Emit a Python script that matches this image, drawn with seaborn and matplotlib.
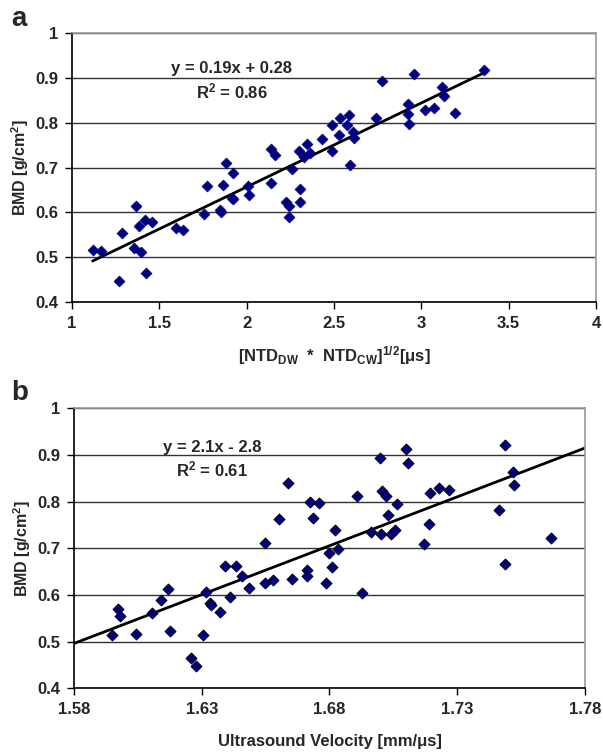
import numpy as np
import pandas as pd
import seaborn as sns
import matplotlib.pyplot as plt

# panel a: geometric mean of normalised time delays vs BMD
ntd = [1.118, 1.168, 1.271, 1.284, 1.366, 1.357, 1.395, 1.385, 1.418, 1.456,
       1.425, 1.594, 1.634, 1.758, 1.771, 1.845, 1.853, 1.866, 1.881, 1.920,
       1.914, 1.923, 2.005, 2.015, 2.139, 2.141, 2.162, 2.223, 2.240, 2.244,
       2.261, 2.303, 2.303, 2.297, 2.343, 2.330, 2.362, 2.429, 2.488, 2.488,
       2.532, 2.526, 2.576, 2.585, 2.591, 2.606, 2.614, 2.740, 2.776, 2.925,
       2.924, 2.931, 2.956, 3.021, 3.072, 3.118, 3.131, 3.191, 3.360]
bmd_a = [0.515, 0.513, 0.446, 0.553, 0.614, 0.521, 0.512, 0.570, 0.582, 0.578,
         0.465, 0.564, 0.561, 0.597, 0.659, 0.605, 0.600, 0.662, 0.711, 0.688,
         0.631, 0.629, 0.659, 0.638, 0.665, 0.741, 0.729, 0.624, 0.615, 0.590,
         0.696, 0.653, 0.624, 0.737, 0.752, 0.724, 0.732, 0.763, 0.737, 0.794,
         0.811, 0.772, 0.794, 0.817, 0.705, 0.780, 0.766, 0.811, 0.893, 0.841,
         0.819, 0.798, 0.910, 0.829, 0.834, 0.881, 0.860, 0.823, 0.919]

# panel b: ultrasound velocity vs BMD
vel = [1.5950, 1.5971, 1.5979, 1.6041, 1.6104, 1.6141, 1.6167, 1.6176, 1.6257,
       1.6276, 1.6306, 1.6315, 1.6332, 1.6336, 1.6371, 1.6391, 1.6412, 1.6433,
       1.6456, 1.6484, 1.6548, 1.6548, 1.6579, 1.6602, 1.6638, 1.6654, 1.6711,
       1.6713, 1.6724, 1.6734, 1.6758, 1.6785, 1.6799, 1.6809, 1.6823, 1.6835,
       1.6906, 1.6928, 1.6961, 1.6999, 1.7000, 1.7007, 1.7020, 1.7030, 1.7040,
       1.7055, 1.7064, 1.7101, 1.7106, 1.7171, 1.7191, 1.7195, 1.7230, 1.7267,
       1.7463, 1.7488, 1.7488, 1.7517, 1.7522, 1.7668]
bmd_b = [0.514, 0.571, 0.554, 0.516, 0.562, 0.590, 0.612, 0.522, 0.466, 0.447,
         0.514, 0.606, 0.582, 0.579, 0.563, 0.662, 0.596, 0.662, 0.641, 0.615,
         0.711, 0.626, 0.632, 0.763, 0.841, 0.634, 0.654, 0.640, 0.799, 0.766,
         0.797, 0.626, 0.689, 0.659, 0.739, 0.698, 0.813, 0.604, 0.736, 0.893,
         0.731, 0.822, 0.813, 0.772, 0.731, 0.739, 0.796, 0.912, 0.882, 0.709,
         0.753, 0.818, 0.830, 0.824, 0.783, 0.921, 0.667, 0.863, 0.835, 0.723]

df_a = pd.DataFrame({'ntd': ntd, 'bmd': bmd_a})
df_b = pd.DataFrame({'vel': vel, 'bmd': bmd_b})

sns.set_style('white')
plt.rcParams['font.family'] = ['Liberation Sans', 'DejaVu Sans']
plt.rcParams['font.weight'] = 'bold'
plt.rcParams['mathtext.fontset'] = 'custom'
plt.rcParams['mathtext.rm'] = 'Liberation Sans:bold'
plt.rcParams['mathtext.it'] = 'Liberation Sans:bold'
plt.rcParams['mathtext.bf'] = 'Liberation Sans:bold'
plt.rcParams['mathtext.default'] = 'rm'

fig = plt.figure(figsize=(6.03, 7.53), dpi=100)
ax1 = fig.add_axes([0.1194, 0.5993, 0.869, 0.3564])
ax2 = fig.add_axes([0.1227, 0.0859, 0.8474, 0.3718])

navy = '#000080'


def style_axes(ax, xticks, xlabels):
    ax.set_ylim(0.4, 1.0)
    ax.set_yticks([0.4, 0.5, 0.6, 0.7, 0.8, 0.9, 1.0])
    ax.set_yticklabels(['0.4', '0.5', '0.6', '0.7', '0.8', '0.9', '1'])
    ax.set_xticks(xticks)
    ax.set_xticklabels(xlabels)
    ax.yaxis.grid(True, color='#333333', lw=1)
    ax.set_axisbelow(True)
    for s in ['left', 'bottom']:
        ax.spines[s].set_color('black')
        ax.spines[s].set_linewidth(1.2)
    for s in ['top', 'right']:
        ax.spines[s].set_color('#999999')
        ax.spines[s].set_linewidth(1.2)
    ax.tick_params(axis='both', direction='out', length=5, width=1,
                   labelsize=12, color='black', bottom=True, left=True, pad=5)
    for lab in ax.get_xticklabels() + ax.get_yticklabels():
        lab.set_fontweight('bold')
    ax.set_ylabel('BMD [g/cm$^2$]', fontsize=11.5, fontweight='bold', labelpad=3)


# panel a
ax1.set_xlim(1, 4)
sns.scatterplot(data=df_a, x='ntd', y='bmd', marker='D', s=32, color=navy,
                edgecolor=navy, linewidth=0.4, ax=ax1, zorder=3)
sns.regplot(data=df_a, x='ntd', y='bmd', scatter=False, ci=None, truncate=True,
            color='black', line_kws={'lw': 2}, ax=ax1)
style_axes(ax1, [1, 1.5, 2, 2.5, 3, 3.5, 4], ['1', '1.5', '2', '2.5', '3', '3.5', '4'])
ax1.set_xlabel('[NTD$_{DW}$  *  NTD$_{CW}$]$^{1/2}$[μs]', fontsize=12,
               fontweight='bold', labelpad=10)
ax1.text(1.916, 0.922, 'y = 0.19x + 0.28', ha='center', va='center',
         fontsize=12, fontweight='bold')
ax1.text(1.916, 0.871, 'R$^2$ = 0.86', ha='center', va='center',
         fontsize=12, fontweight='bold')

# panel b
ax2.set_xlim(1.58, 1.78)
sns.scatterplot(data=df_b, x='vel', y='bmd', marker='D', s=32, color=navy,
                edgecolor='black', linewidth=0.6, ax=ax2, zorder=3)
sns.regplot(data=df_b, x='vel', y='bmd', scatter=False, ci=None, truncate=False,
            color='black', line_kws={'lw': 2}, ax=ax2)
style_axes(ax2, [1.58, 1.63, 1.68, 1.73, 1.78], ['1.58', '1.63', '1.68', '1.73', '1.78'])
ax2.set_xlim(1.58, 1.78)
ax2.set_xlabel('Ultrasound Velocity [mm/μs]', fontsize=12, fontweight='bold',
               labelpad=12)
ax2.text(1.634, 0.917, 'y = 2.1x - 2.8', ha='center', va='center',
         fontsize=12, fontweight='bold')
ax2.text(1.634, 0.869, 'R$^2$ = 0.61', ha='center', va='center',
         fontsize=12, fontweight='bold')

fig.text(0.018, 0.975, 'a', fontsize=20, fontweight='bold', va='center')
fig.text(0.018, 0.478, 'b', fontsize=20, fontweight='bold', va='center')

fig.savefig('out.png', dpi=100)
